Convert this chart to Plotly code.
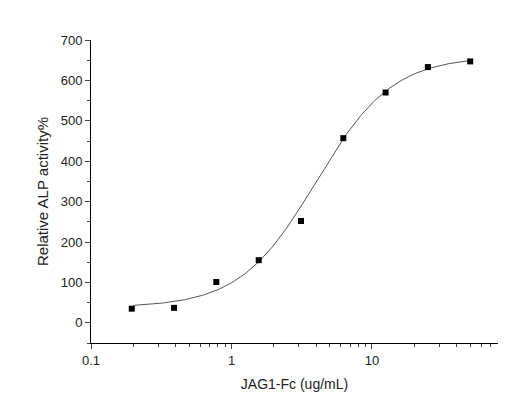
import numpy as np
import plotly.graph_objects as go

conc = [0.195, 0.39, 0.78, 1.5625, 3.125, 6.25, 12.5, 25, 50]
activity = [35, 37, 101, 155, 252, 457, 570, 633, 647]
# fitted 4PL parameters
fit_bottom, fit_top, fit_ec50, fit_hill = 38, 660, 4.0, 1.6

xf = np.logspace(np.log10(0.2), np.log10(50), 200)
yf = fit_bottom + (fit_top - fit_bottom) / (1 + (fit_ec50 / xf) ** fit_hill)

fig = go.Figure()
fig.add_trace(go.Scatter(x=xf, y=yf, mode="lines", line=dict(color="#555", width=1), hoverinfo="skip"))
fig.add_trace(go.Scatter(x=conc, y=activity, mode="markers",
                         marker=dict(symbol="square", size=6, color="black")))
font = dict(family="Liberation Sans, Arial, sans-serif", size=13, color="#222")
fig.update_layout(width=520, height=412, margin=dict(l=83, r=30, t=32, b=77),
                  plot_bgcolor="white", paper_bgcolor="white", showlegend=False, font=font)
fig.update_xaxes(type="log", range=[-1, 1.897], showgrid=False, showline=True, linecolor="black",
                 linewidth=1, ticks="outside", ticklen=5, tickvals=[0.1, 1, 10],
                 ticktext=["0.1", "1", "10"], minor=dict(ticks="outside", ticklen=3, dtick="D1"),
                 title=dict(text="JAG1-Fc (ug/mL)", standoff=12, font=dict(size=14)), zeroline=False)
fig.update_yaxes(range=[-50, 700], showgrid=False, showline=True, linecolor="black", linewidth=1,
                 ticks="outside", ticklen=5, dtick=100, tick0=0,
                 minor=dict(ticks="outside", ticklen=3, dtick=50),
                 title=dict(text="Relative ALP activity%", standoff=8, font=dict(size=15)), zeroline=False)
fig.write_html("out.html")
